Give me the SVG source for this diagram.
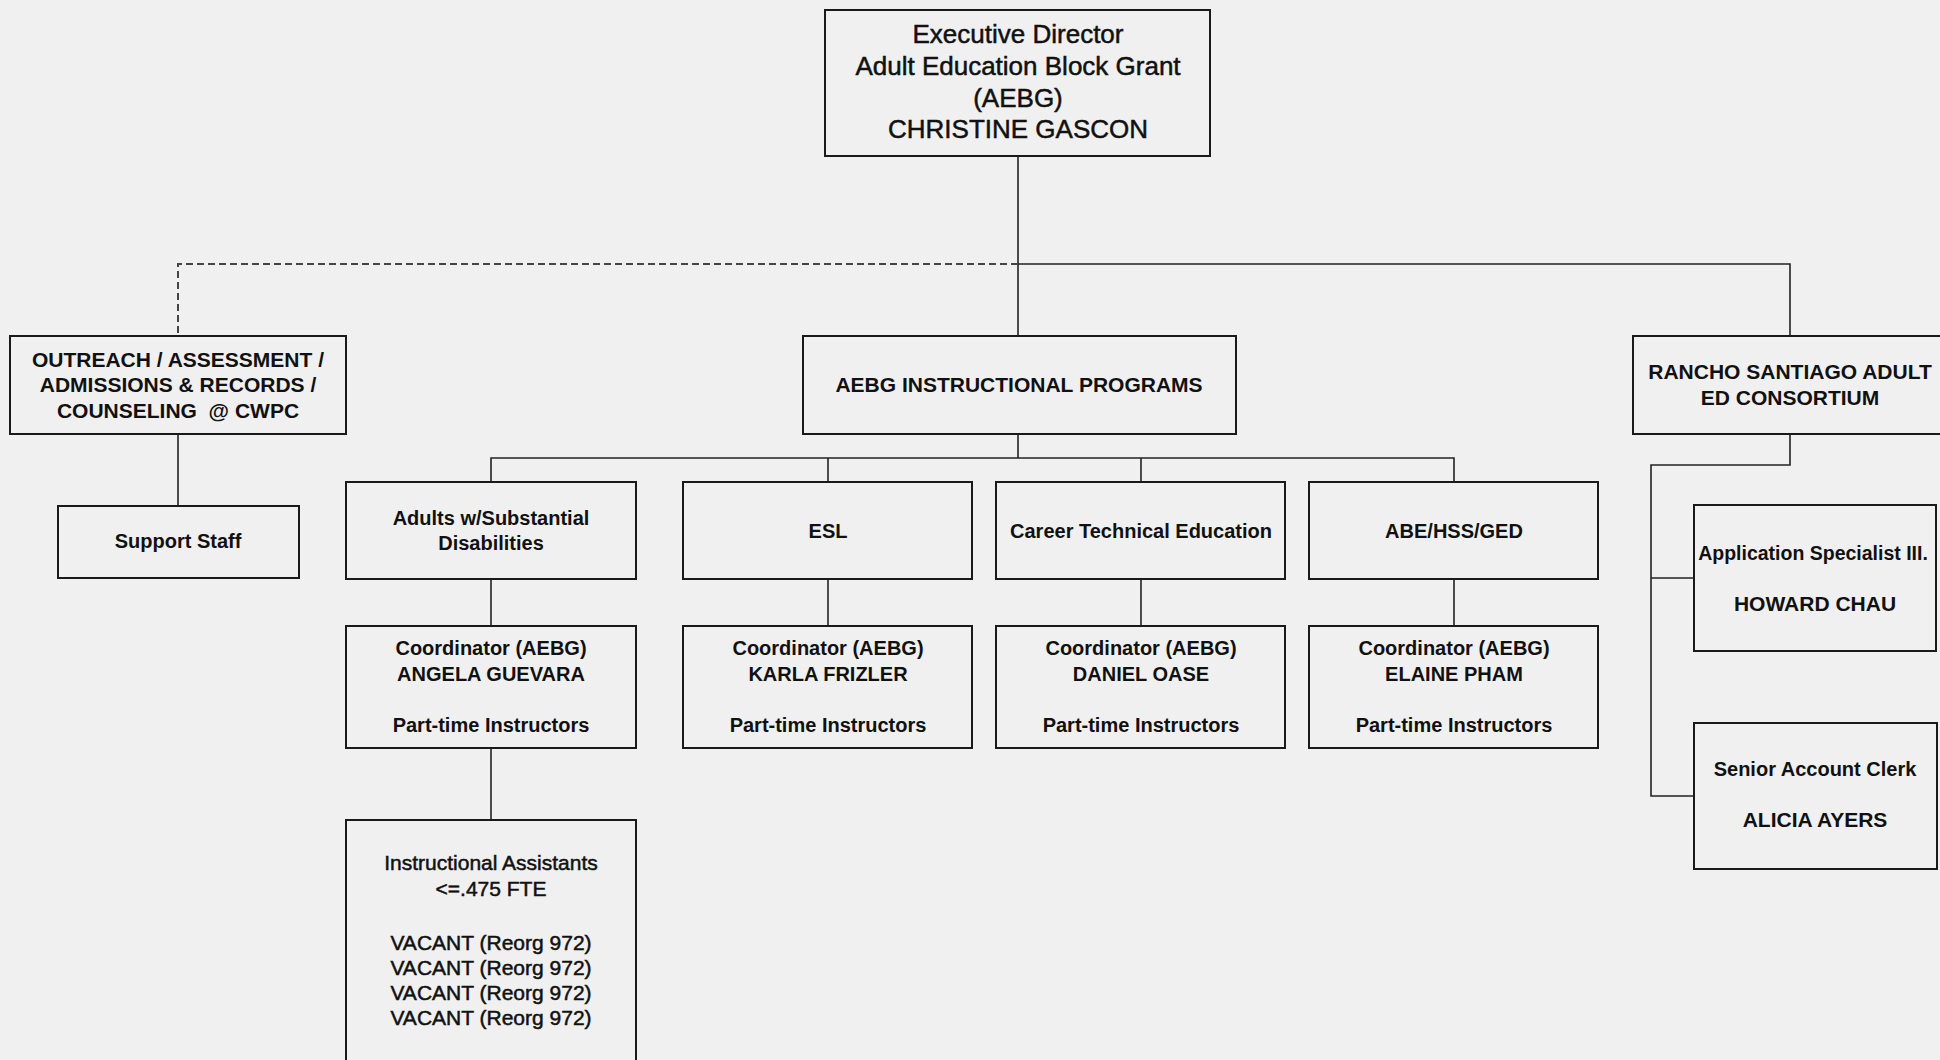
<svg xmlns="http://www.w3.org/2000/svg" width="1940" height="1060" viewBox="0 0 1940 1060">
<style>
.bg{fill:#f0f0f0}
.box{fill:none;stroke:#1a1a1a;stroke-width:2}
.ln{fill:none;stroke:#222;stroke-width:1.6}
.dash{fill:none;stroke:#444;stroke-width:2;stroke-dasharray:7 4}
text{font-family:"Liberation Sans",Arial,sans-serif;fill:#111;text-anchor:middle}
.b{font-weight:bold}
.r{stroke:#111;stroke-width:0.5}
.t26{font-size:26px}
.t21{font-size:21px}
.t20{font-size:20px}
.t19{font-size:19.5px}
</style>
<rect class="bg" x="0" y="0" width="1940" height="1060"/>
<g id="connectors">
<path class="ln" d="M1018 156 V336"/>
<path class="ln" d="M1018 264 H1790 V336"/>
<path class="dash" d="M1018 264 H178 V336"/>
<path class="ln" d="M178 434 V506"/>
<path class="ln" d="M1018 434 V458"/>
<path class="ln" d="M491 482 V458 H1454 V482"/>
<path class="ln" d="M828 458 V482"/>
<path class="ln" d="M1141 458 V482"/>
<path class="ln" d="M491 579 V626"/>
<path class="ln" d="M828 579 V626"/>
<path class="ln" d="M1141 579 V626"/>
<path class="ln" d="M1454 579 V626"/>
<path class="ln" d="M491 748 V820"/>
<path class="ln" d="M1790 434 V465 H1651 V796 H1694"/>
<path class="ln" d="M1651 578 H1694"/>
</g>
<g id="exec">
<rect class="box" x="825" y="10" width="385" height="146"/>
<text class="t26 r" x="1018" y="43">Executive Director</text>
<text class="t26 r" x="1018" y="75">Adult Education Block Grant</text>
<text class="t26 r" x="1018" y="107">(AEBG)</text>
<text class="t26 r" x="1018" y="138">CHRISTINE GASCON</text>
</g>
<g id="outreach">
<rect class="box" x="10" y="336" width="336" height="98"/>
<text class="b t21" x="178" y="367">OUTREACH / ASSESSMENT /</text>
<text class="b t21" x="178" y="392">ADMISSIONS &amp; RECORDS /</text>
<text class="b t21" x="178" y="418">COUNSELING&#160; @ CWPC</text>
</g>
<g id="support">
<rect class="box" x="58" y="506" width="241" height="72"/>
<text class="b t20" x="178" y="548">Support Staff</text>
</g>
<g id="instructional">
<rect class="box" x="803" y="336" width="433" height="98"/>
<text class="b t21" x="1019" y="392">AEBG INSTRUCTIONAL PROGRAMS</text>
</g>
<g id="adults">
<rect class="box" x="346" y="482" width="290" height="97"/>
<text class="b t20" x="491" y="525">Adults w/Substantial</text>
<text class="b t20" x="491" y="550">Disabilities</text>
</g>
<g id="esl">
<rect class="box" x="683" y="482" width="289" height="97"/>
<text class="b t20" x="828" y="538">ESL</text>
</g>
<g id="cte">
<rect class="box" x="996" y="482" width="289" height="97"/>
<text class="b t20" x="1141" y="538">Career Technical Education</text>
</g>
<g id="abe">
<rect class="box" x="1309" y="482" width="289" height="97"/>
<text class="b t20" x="1454" y="538">ABE/HSS/GED</text>
</g>
<g id="coord-adults">
<rect class="box" x="346" y="626" width="290" height="122"/>
<text class="b t20" x="491" y="655">Coordinator (AEBG)</text>
<text class="b t20" x="491" y="681">ANGELA GUEVARA</text>
<text class="b t20" x="491" y="732">Part-time Instructors</text>
</g>
<g id="coord-esl">
<rect class="box" x="683" y="626" width="289" height="122"/>
<text class="b t20" x="828" y="655">Coordinator (AEBG)</text>
<text class="b t20" x="828" y="681">KARLA FRIZLER</text>
<text class="b t20" x="828" y="732">Part-time Instructors</text>
</g>
<g id="coord-cte">
<rect class="box" x="996" y="626" width="289" height="122"/>
<text class="b t20" x="1141" y="655">Coordinator (AEBG)</text>
<text class="b t20" x="1141" y="681">DANIEL OASE</text>
<text class="b t20" x="1141" y="732">Part-time Instructors</text>
</g>
<g id="coord-abe">
<rect class="box" x="1309" y="626" width="289" height="122"/>
<text class="b t20" x="1454" y="655">Coordinator (AEBG)</text>
<text class="b t20" x="1454" y="681">ELAINE PHAM</text>
<text class="b t20" x="1454" y="732">Part-time Instructors</text>
</g>
<g id="assistants">
<rect class="box" x="346" y="820" width="290" height="260"/>
<text class="t21 r" x="491" y="870">Instructional Assistants</text>
<text class="t21 r" x="491" y="896">&lt;=.475 FTE</text>
<text class="t21 r" x="491" y="950">VACANT (Reorg 972)</text>
<text class="t21 r" x="491" y="975">VACANT (Reorg 972)</text>
<text class="t21 r" x="491" y="1000">VACANT (Reorg 972)</text>
<text class="t21 r" x="491" y="1025">VACANT (Reorg 972)</text>
</g>
<g id="rancho">
<rect class="box" x="1633" y="336" width="320" height="98"/>
<text class="b t21" x="1790" y="379">RANCHO SANTIAGO ADULT</text>
<text class="b t21" x="1790" y="405">ED CONSORTIUM</text>
</g>
<g id="app-specialist">
<rect class="box" x="1694" y="505" width="242" height="146"/>
<text class="b t19" x="1813" y="560">Application Specialist III.</text>
<text class="b t21" x="1815" y="611">HOWARD CHAU</text>
</g>
<g id="account-clerk">
<rect class="box" x="1694" y="723" width="243" height="146"/>
<text class="b t20" x="1815" y="776">Senior Account Clerk</text>
<text class="b t21" x="1815" y="827">ALICIA AYERS</text>
</g>
</svg>
